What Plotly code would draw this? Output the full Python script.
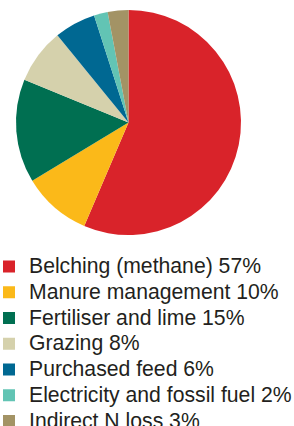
import plotly.graph_objects as go

labels = ["Belching (methane) 57%", "Manure management 10%", "Fertiliser and lime 15%",
          "Grazing 8%", "Purchased feed 6%", "Electricity and fossil fuel 2%", "Indirect N loss 3%"]
values = [57, 10, 15, 8, 6, 2, 3]
colors = ["#d9232a", "#fbb919", "#006f51", "#d5d1ac", "#006892", "#62c4b4", "#a39365"]

W, H = 294, 426
legend_labels = ['<span style="font-size:21.2px">%s</span>' % s for s in labels]

fig = go.Figure(go.Pie(
    labels=legend_labels, values=values, sort=False, direction="clockwise", rotation=0,
    marker=dict(colors=colors, line=dict(width=0)),
    textinfo="none", hoverinfo="label",
    domain=dict(x=[16/W, 241/W], y=[1-235/H, 1-10/H]),
))
fig.update_layout(
    width=W, height=H, margin=dict(l=0, r=0, t=0, b=0, autoexpand=False),
    paper_bgcolor="white", plot_bgcolor="white",
    showlegend=True,
    legend=dict(x=-11/W, y=1-248.5/H, xanchor="left", yanchor="top",
                font=dict(family="Liberation Sans, Arial, sans-serif", size=17.5, color="#231f20"),
                tracegroupgap=0, itemwidth=30, bgcolor="rgba(0,0,0,0)"),
)
fig.write_html("out.html", config={"displayModeBar": False},
               post_script="document.body.style.margin='0';document.body.style.overflow='hidden';")
